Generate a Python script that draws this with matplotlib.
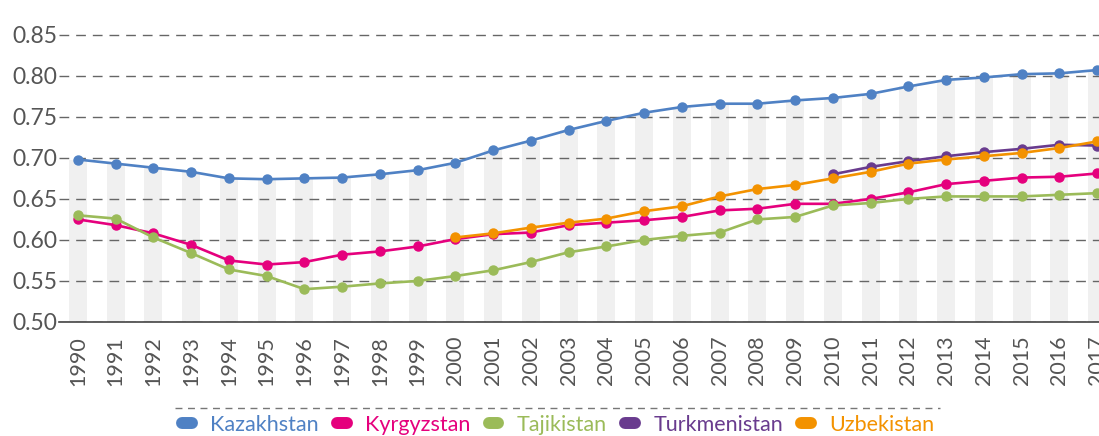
"""Human development index, Central Asia, 1990-2017."""

import matplotlib
matplotlib.use("Agg")
import matplotlib.pyplot as plt
from matplotlib.lines import Line2D

years = list(range(1990, 2018))

kazakhstan = [0.698, 0.693, 0.688, 0.683, 0.675, 0.674, 0.675, 0.676, 0.680, 0.685,
              0.694, 0.709, 0.721, 0.734, 0.745, 0.755, 0.762, 0.766, 0.766, 0.770,
              0.773, 0.778, 0.787, 0.795, 0.798, 0.802, 0.803, 0.807]
kyrgyzstan = [0.625, 0.618, 0.608, 0.594, 0.575, 0.570, 0.573, 0.582, 0.586, 0.592,
              0.601, 0.607, 0.609, 0.618, 0.621, 0.624, 0.628, 0.636, 0.638, 0.644,
              0.644, 0.650, 0.658, 0.668, 0.672, 0.676, 0.677, 0.681]
tajikistan = [0.630, 0.626, 0.603, 0.584, 0.564, 0.556, 0.540, 0.543, 0.547, 0.550,
              0.556, 0.563, 0.573, 0.585, 0.592, 0.600, 0.605, 0.609, 0.625, 0.628,
              0.642, 0.645, 0.650, 0.653, 0.653, 0.653, 0.655, 0.657]
turkmenistan_years = list(range(2010, 2018))
turkmenistan = [0.680, 0.689, 0.696, 0.702, 0.707, 0.711, 0.716, 0.715]
uzbekistan_years = list(range(2000, 2018))
uzbekistan = [0.603, 0.608, 0.615, 0.621, 0.626, 0.635, 0.641, 0.653, 0.662, 0.667,
              0.675, 0.683, 0.693, 0.698, 0.702, 0.706, 0.712, 0.720]

series = [
    ("Kazakhstan", years, kazakhstan, "#4f81c4"),
    ("Kyrgyzstan", years, kyrgyzstan, "#e5007d"),
    ("Tajikistan", years, tajikistan, "#9bbb59"),
    ("Turkmenistan", turkmenistan_years, turkmenistan, "#693b8e"),
    ("Uzbekistan", uzbekistan_years, uzbekistan, "#f39200"),
]

plt.rcParams["font.family"] = ["Lato", "DejaVu Sans"]

fig = plt.figure(figsize=(10.99, 4.36), dpi=100)
ax = fig.add_axes([0.0537, 0.2615, 0.9463, 0.6625])

# grey background bars follow the Kazakhstan values
ax.bar(years, [v - 0.5 for v in kazakhstan], bottom=0.5, width=0.48,
       color="#f0f0f0", zorder=0)

for name, xs, ys, color in series:
    ax.plot(xs, ys, color=color, lw=1.9, marker="o", ms=6.5,
            label=name, zorder=3)

ax.set_xlim(1989.5, 2017.05)
ax.set_ylim(0.5, 0.852)
ax.set_yticks([0.50, 0.55, 0.60, 0.65, 0.70, 0.75, 0.80, 0.85])
ax.set_yticklabels([f"{t:.2f}" for t in ax.get_yticks()])
ax.set_xticks(years)
ax.set_xticklabels([str(y) for y in years], rotation=90)
ax.tick_params(axis="both", length=0, labelcolor="#555555")
ax.tick_params(axis="y", pad=1, labelsize=16.5)
ax.tick_params(axis="x", pad=10, labelsize=15.5)

ax.grid(axis="y", color="#666666", lw=1.0, linestyle=(0, (7, 5)), zorder=1)
ax.set_axisbelow(False)
for side in ["left", "right", "top"]:
    ax.spines[side].set_visible(False)
ax.spines["bottom"].set_color("#444444")
ax.spines["bottom"].set_linewidth(1.2)
ax.spines["bottom"].set_zorder(4)

# dashed rule above the legend
fig.add_artist(Line2D([175 / 1099, 940 / 1099], [1 - 408 / 436] * 2,
                      transform=fig.transFigure, color="#777777", lw=1.0,
                      linestyle=(0, (5, 4))))

handles = [Line2D([], [], color=c, lw=8.6, solid_capstyle="round")
           for _, _, _, c in series]
labels = [s[0] for s in series]
fig.legend(handles, labels, loc="center", bbox_to_anchor=(0.508, 1 - 425 / 436),
           ncol=5, frameon=False, fontsize=15.5, handletextpad=0.85,
           columnspacing=0.85, handlelength=0.45, borderpad=0.2,
           labelcolor=[s[3] for s in series])

fig.savefig("out.png", dpi=100)
